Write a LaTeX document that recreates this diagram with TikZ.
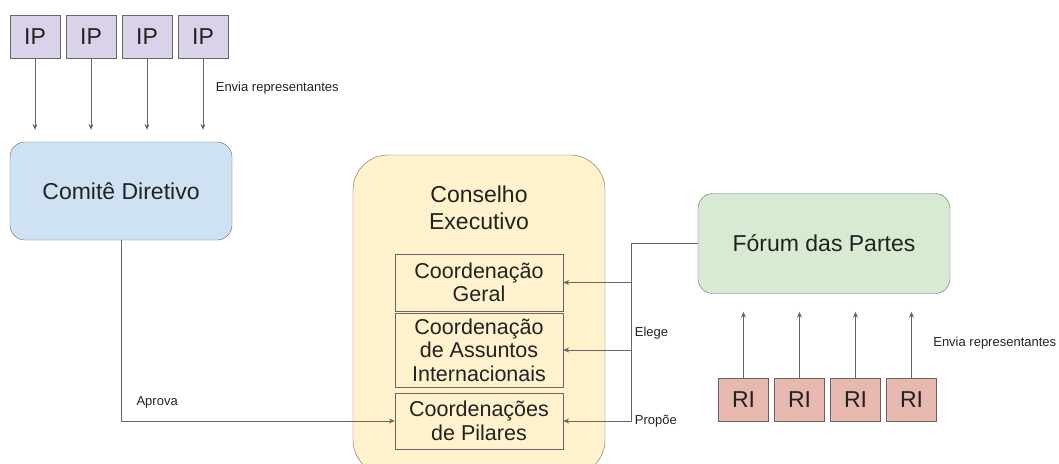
\documentclass[tikz,border=0pt]{standalone}
\usepackage{fontspec}
\setmainfont{Liberation Sans}
\usetikzlibrary{arrows.meta}

\definecolor{linha}{HTML}{666666}
\definecolor{texto}{HTML}{222222}
\definecolor{roxo}{HTML}{D9D2E9}
\definecolor{azul}{HTML}{CFE2F3}
\definecolor{amarelo}{HTML}{FFF2CC}
\definecolor{verde}{HTML}{D9EAD3}
\definecolor{rosa}{HTML}{E6B8AF}

\begin{document}
\begin{tikzpicture}[x=1pt, y=-1pt, ->, >={Stealth[length=6pt,width=5pt]}, auto, node distance=56pt,
  every node/.style={text=texto},
  membro/.style={draw=linha, minimum width=50pt, minimum height=43pt, inner sep=0pt, font=\fontsize{23}{27}\selectfont},
  bloco/.style={draw=linha, rounded corners=15pt, align=center, font=\fontsize{23}{27}\selectfont},
  coord/.style={draw=linha, minimum width=168pt, inner sep=0pt, align=center, font=\fontsize{21.5}{23.5}\selectfont},
  rotulo/.style={font=\fontsize{13}{15}\selectfont},
  conector/.style={draw=linha, line width=1pt},
  every edge/.style={conector}]
  \useasboundingbox (0,0) rectangle (1059,463);
  \clip (0,0) rectangle (1059,463);

  \node[membro, fill=roxo] (ip1) at (35,36.5) {IP};
  \node[membro, fill=roxo] (ip2) [right of=ip1] {IP};
  \node[membro, fill=roxo] (ip3) [right of=ip2] {IP};
  \node[membro, fill=roxo] (ip4) [right of=ip3] {IP};

  \node[bloco, fill=azul, minimum width=222pt, minimum height=98pt] (comite) at (121,191) {Comitê Diretivo};

  \node[bloco, fill=amarelo, rounded corners=35pt, minimum width=252pt, minimum height=320pt] (conselho) at (479,315) {};
  \node[align=center, font=\fontsize{23}{27}\selectfont] (titulo) at (479,208) {Conselho\\Executivo};
  \node[coord, minimum height=57pt] (geral)    at (479,282.5) {Coordenação\\Geral};
  \node[coord, minimum height=74pt] (assuntos) at (479,350)   {Coordenação\\de Assuntos\\Internacionais};
  \node[coord, minimum height=56pt] (pilares)  at (479,421)   {Coordenações\\de Pilares};

  \node[bloco, fill=verde, minimum width=252pt, minimum height=100pt] (forum) at (824,243.5) {Fórum das Partes};

  \node[membro, fill=rosa] (ri1) at (743.5,399.5) {RI};
  \node[membro, fill=rosa] (ri2) [right of=ri1] {RI};
  \node[membro, fill=rosa] (ri3) [right of=ri2] {RI};
  \node[membro, fill=rosa] (ri4) [right of=ri3] {RI};

  \coordinate (elo) at (631,243.5);

  \path (ip1) edge [shorten >=12pt] (ip1 |- comite.north)
        (ip2) edge [shorten >=12pt] (ip2 |- comite.north)
        (ip3) edge [shorten >=12pt] (ip3 |- comite.north)
        (ip4) edge [shorten >=12pt] node[rotulo, pos=0.36, xshift=9pt] {Envia representantes} (ip4 |- comite.north)
        (ri1) edge [shorten >=18pt] (ri1 |- forum.south)
        (ri2) edge [shorten >=18pt] (ri2 |- forum.south)
        (ri3) edge [shorten >=18pt] (ri3 |- forum.south)
        (ri4) edge [shorten >=18pt] node[rotulo, swap, pos=0.41, xshift=18pt] {Envia representantes} (ri4 |- forum.south)
        ;

  \draw[conector] (comite) |- node[rotulo, pos=0.566, above, yshift=9pt] {Aprova} (pilares);
  \draw[conector, -] (forum) -- (elo);
  \draw[conector] (elo) |- (geral);
  \draw[conector] (elo) |- node[rotulo, pos=0.42, right] {Elege} (assuntos);
  \draw[conector] (elo) |- node[rotulo, pos=0.5, right] {Propõe} (pilares);
\end{tikzpicture}
\end{document}
